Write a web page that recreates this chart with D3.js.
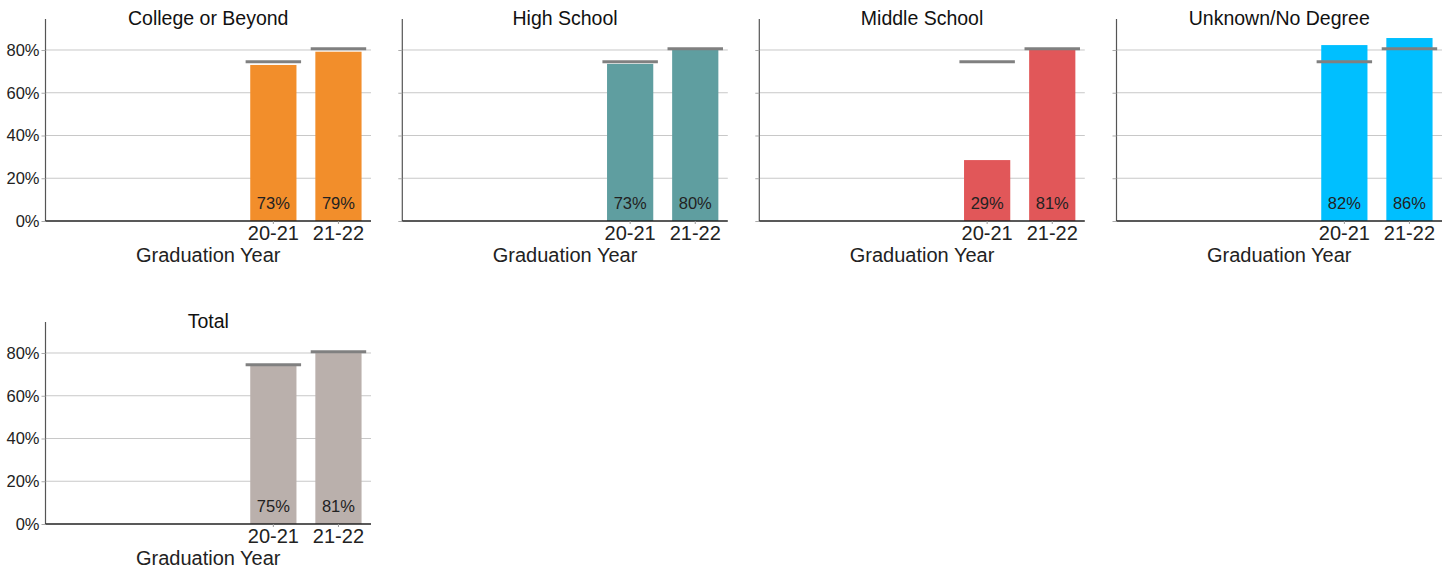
<!DOCTYPE html>
<html><head><meta charset="utf-8">
<script src="https://cdn.jsdelivr.net/npm/d3@7"></script>
<style>
body{margin:0;background:#fff;}
text{font-family:"Liberation Sans",Arial,sans-serif;}
</style></head>
<body>
<svg id="chart" width="1453" height="571"></svg>
<script>
const categories = ["17-18", "18-19", "19-20", "20-21", "21-22"];
const shownTicks = ["20-21", "21-22"];
const panels = ["College or Beyond", "High School", "Middle School", "Unknown/No Degree", "Total"];
const collegeValues = [null, null, null, 0.730, 0.792];
const highSchoolValues = [null, null, null, 0.735, 0.803];
const middleSchoolValues = [null, null, null, 0.285, 0.805];
const unknownValues = [null, null, null, 0.823, 0.856];
const totalValues = [null, null, null, 0.745, 0.806];
const benchmarkValues = [null, null, null, 0.745, 0.806];
const barLabels = [
  ["", "", "", "73%", "79%"],
  ["", "", "", "73%", "80%"],
  ["", "", "", "29%", "81%"],
  ["", "", "", "82%", "86%"],
  ["", "", "", "75%", "81%"]
];
const colors = ["#F28E2B", "#5F9EA0", "#E15759", "#00BFFF", "#BAB0AC"];
const yTicks = [0, 0.2, 0.4, 0.6, 0.8];
const xTitle = "Graduation Year";

const seriesList = [collegeValues, highSchoolValues, middleSchoolValues, unknownValues, totalValues];

const svg = d3.select("#chart");
const plotW = 325.5, plotH = 202;
const colX = [45.5, 402.3, 759.3, 1116.5];
const rowY = [19, 322];

const x = d3.scaleBand().domain(categories).range([0, plotW]).paddingInner(0.29).paddingOuter(0.145);
const y = d3.scaleLinear().domain([0, 0.945]).range([plotH, 0]);

panels.forEach((name, i) => {
  const col = i % 4, row = Math.floor(i / 4);
  const g = svg.append("g").attr("transform", `translate(${colX[col]},${rowY[row]})`);
  const vals = seriesList[i];

  // gridlines
  g.append("g").selectAll("line").data(yTicks.filter(t => t > 0)).join("line")
    .attr("x1", 0).attr("x2", plotW)
    .attr("y1", d => y(d)).attr("y2", d => y(d))
    .attr("stroke", "#c8c8c8").attr("stroke-width", 1);

  // y axis
  const yAxis = d3.axisLeft(y).tickValues(yTicks).tickSize(4).tickPadding(2)
    .tickFormat(col === 0 ? d3.format(".0%") : () => "");
  const ya = g.append("g").call(yAxis);
  ya.select(".domain").attr("stroke", "#555").attr("stroke-width", 1.2).attr("d", `M0,0V${plotH}`);
  ya.selectAll(".tick line").attr("stroke", "#aaa");
  ya.selectAll(".tick text").attr("font-size", 16.5).attr("fill", "#222")
    .attr("font-family", "Liberation Sans, Arial, sans-serif");

  // bars
  const idx = categories.map((c, k) => k).filter(k => vals[k] != null);
  g.append("g").selectAll("rect").data(idx).join("rect")
    .attr("x", k => x(categories[k]))
    .attr("width", x.bandwidth())
    .attr("y", k => y(vals[k]))
    .attr("height", k => plotH - y(vals[k]))
    .attr("fill", colors[i]);

  // benchmark lines
  const bIdx = categories.map((c, k) => k).filter(k => benchmarkValues[k] != null);
  const ext = x.bandwidth() * 0.1;
  g.append("g").selectAll("line").data(bIdx).join("line")
    .attr("x1", k => x(categories[k]) - ext)
    .attr("x2", k => x(categories[k]) + x.bandwidth() + ext)
    .attr("y1", k => y(benchmarkValues[k]))
    .attr("y2", k => y(benchmarkValues[k]))
    .attr("stroke", "#808080").attr("stroke-width", 3);

  // bar labels
  g.append("g").selectAll("text").data(idx).join("text")
    .attr("x", k => x(categories[k]) + x.bandwidth() / 2)
    .attr("y", plotH - 12.5)
    .attr("text-anchor", "middle")
    .attr("font-size", 16.5).attr("fill", "#222")
    .text(k => barLabels[i][k]);

  // x axis
  const xAxis = d3.axisBottom(x).tickSize(3).tickPadding(1.6)
    .tickFormat(d => shownTicks.includes(d) ? d : "");
  const xa = g.append("g").attr("transform", `translate(0,${plotH})`).call(xAxis);
  xa.select(".domain").attr("stroke", "#222").attr("stroke-width", 1.3).attr("d", `M0,0H${plotW}`);
  xa.selectAll(".tick line").attr("stroke", d => shownTicks.includes(d) ? "#999" : "none");
  xa.selectAll(".tick text").attr("font-size", 20).attr("fill", "#222")
    .attr("font-family", "Liberation Sans, Arial, sans-serif");

  // x title
  g.append("text").attr("x", plotW / 2).attr("y", plotH + 41.4)
    .attr("text-anchor", "middle").attr("font-size", 20).attr("fill", "#222").text(xTitle);

  // panel title
  g.append("text").attr("x", plotW / 2).attr("y", 6)
    .attr("text-anchor", "middle").attr("font-size", 19.5).attr("fill", "#111").text(name);
});
</script>
</body></html>
